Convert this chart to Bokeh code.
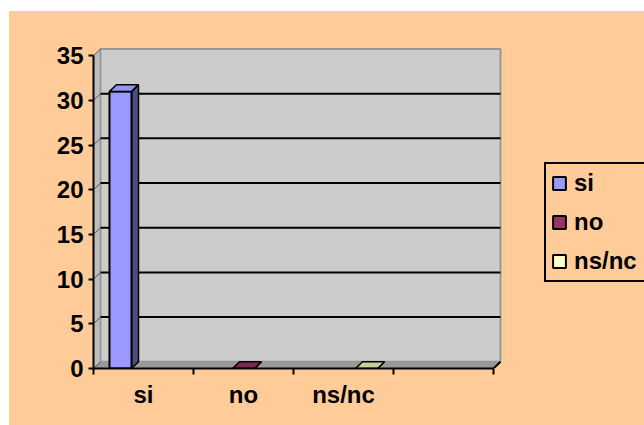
from bokeh.plotting import figure
from bokeh.models import Range1d, FixedTicker, ColumnDataSource, Legend, LegendItem, Spacer
from bokeh.layouts import column, row
from bokeh.embed import file_html
from bokeh.resources import INLINE

# ---- data ----
categories = ["si", "no", "ns/nc", ""]
series = ["si", "no", "ns/nc"]
values = [31, 0, 0]
y_ticks = [0, 5, 10, 15, 20, 25, 30, 35]

# ---- styles ----
front_colors = ["#9999FF", "#993366", "#FFFFCC"]
side_colors = ["#4D4D80", "#4D1A33", "#808066"]
top_colors = ["#9494F5", "#7A2952", "#CCCC99"]
PEACH = "#FFCC99"
FONT = "Liberation Sans"
FS = "24px"
DX, DY = 0.07, 0.75
BAR_W = 0.22
SLOT = 0.23
X_END = 5.51      # frame runs to the right edge (legend is cut off there)
Y_END = 39.94     # frame runs to the top edge

N = len(categories)
YMAX = y_ticks[-1]

p = figure(width=635, height=414,
           x_range=Range1d(0, X_END), y_range=Range1d(0, Y_END),
           output_backend="svg", toolbar_location=None,
           min_border_left=84, min_border_right=0,
           min_border_top=0, min_border_bottom=57)
p.background_fill_color = PEACH
p.border_fill_color = PEACH
p.styles = {"background-color": PEACH}
p.outline_line_color = None
p.xgrid.visible = False
p.ygrid.visible = False

# 3D walls
p.patch([0, DX, DX, 0], [0, DY, YMAX + DY, YMAX], fill_color="#BDBDBD", line_color=None)
p.quad(left=DX, right=N + DX, bottom=DY, top=YMAX + DY,
       fill_color="#CCCCCC", line_color="#999999", line_width=2)
p.patch([0, N, N + DX, DX], [0, 0, DY, DY], fill_color="#999999", line_color=None)

# gridlines on back wall and left wall
gy = [v + DY for v in y_ticks[1:-1]]
p.segment(x0=[DX] * len(gy), y0=gy, x1=[N + DX] * len(gy), y1=gy,
          line_color="black", line_width=2)
p.segment(x0=[0] * len(y_ticks), y0=y_ticks, x1=[DX] * len(y_ticks),
          y1=[v + DY for v in y_ticks], line_color="#555555", line_width=1)
p.segment(x0=[N], y0=[0], x1=[N + DX], y1=[DY], line_color="black", line_width=2)

# bars
k = len(series)
centers = [i + 0.5 + (i - (k - 1) / 2) * SLOT for i in range(k)]
lefts = [c - BAR_W / 2 for c in centers]
rights = [c + BAR_W / 2 for c in centers]
side_xs = [[r, r + DX, r + DX, r] for r in rights]
side_ys = [[0, DY, h + DY, h] for h in values]
top_xs = [[l, r, r + DX, l + DX] for l, r in zip(lefts, rights)]
top_ys = [[h, h, h + DY, h + DY] for h in values]

p.patches(side_xs, side_ys, fill_color=side_colors, line_color="black", line_width=1.5)
src = ColumnDataSource(dict(left=lefts, right=rights, top=values,
                            bottom=[0] * k, color=front_colors, label=series))
front = p.quad(left="left", right="right", top="top", bottom="bottom", source=src,
               fill_color="color", line_color="black", line_width=2)
p.patches(top_xs, top_ys, fill_color=top_colors, line_color="black", line_width=1.5)

# axes
ya = p.yaxis[0]
ya.ticker = FixedTicker(ticks=y_ticks)
ya.bounds = (0, YMAX)
ya.axis_line_width = 2
ya.major_tick_line_width = 2
ya.major_tick_out = 5
ya.major_tick_in = 0
ya.minor_tick_line_color = None
ya.major_label_standoff = 5
ya.major_label_text_font = FONT
ya.major_label_text_font_style = "bold"
ya.major_label_text_font_size = FS
ya.major_label_text_color = "black"

xa = p.xaxis[0]
xa.ticker = FixedTicker(ticks=[i + 0.5 for i, c in enumerate(categories) if c],
                        minor_ticks=list(range(N + 1)))
xa.major_label_overrides = {i + 0.5: c for i, c in enumerate(categories) if c}
xa.bounds = (0, N)
xa.axis_line_width = 2
xa.major_tick_line_color = None
xa.major_tick_out = 0
xa.major_tick_in = 0
xa.minor_tick_line_color = "black"
xa.minor_tick_line_width = 2
xa.minor_tick_out = 6
xa.minor_tick_in = 0
xa.major_label_standoff = 6
xa.major_label_text_font = FONT
xa.major_label_text_font_style = "bold"
xa.major_label_text_font_size = FS
xa.major_label_text_color = "black"

# legend
items = [LegendItem(label=s, renderers=[front], index=i) for i, s in enumerate(series)]
legend = Legend(items=items, location=(451, 86), margin=0, padding=5, spacing=11,
                glyph_width=16, glyph_height=16, label_height=24, label_standoff=7,
                label_width=80,
                label_text_font=FONT, label_text_font_style="bold",
                label_text_font_size=FS, label_text_color="black",
                border_line_color="black", border_line_width=2, border_line_alpha=1.0,
                background_fill_color=PEACH, background_fill_alpha=1.0)
p.add_layout(legend)

layout = column(Spacer(height=11), row(Spacer(width=9), p))
open("out.html", "w").write(file_html(layout, INLINE))
